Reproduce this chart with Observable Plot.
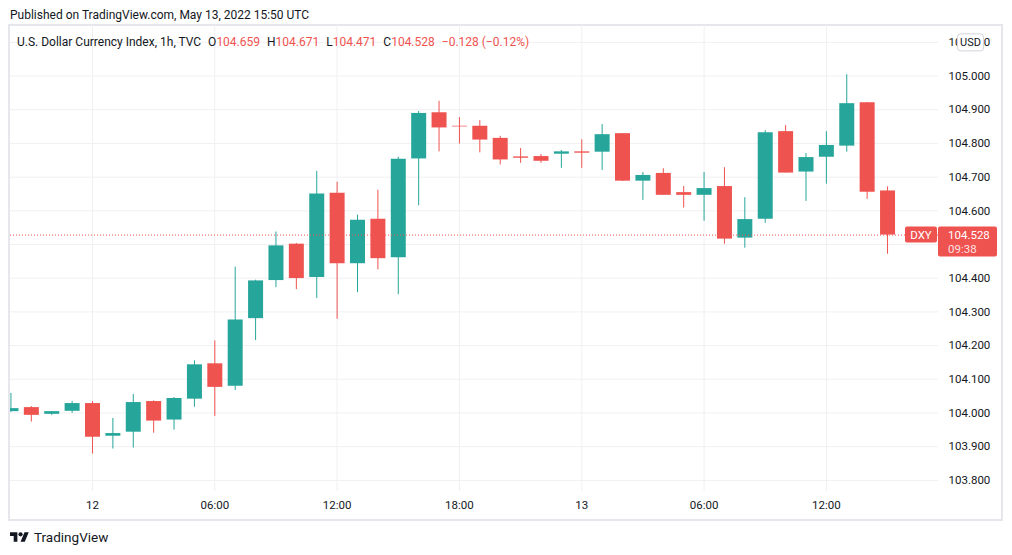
<!DOCTYPE html>
<html>
<head>
<meta charset="utf-8">
<script src="https://cdn.jsdelivr.net/npm/d3@7"></script>
<script src="https://cdn.jsdelivr.net/npm/@observablehq/plot@0.6"></script>
<style>
  html, body { margin: 0; padding: 0; background: #ffffff; }
  body { width: 1012px; height: 555px; position: relative; overflow: hidden; font-family: Roboto, "Noto Sans", sans-serif; color: #131722; }
  #published { position: absolute; left: 10px; top: 6px; font-size: 12px; line-height: 18px; white-space: nowrap; }
  #frame { position: absolute; left: 8px; top: 24px; width: 995px; height: 497px; box-sizing: border-box; border: 2px solid #e6e7ec; }
  #chart { position: absolute; left: 0; top: 24px; }
  #legend { position: absolute; left: 17px; top: 33px; font-size: 12px; line-height: 18px; white-space: nowrap; }
  #legend .v { color: #ef5350; }
  #legend .k { margin-left: 7px; }
  #logo { position: absolute; left: 10px; top: 529px; display: flex; align-items: center; font-size: 13.5px; }
  #logo svg { margin-right: 5px; }
</style>
</head>
<body>
<div id="published">Published on TradingView.com, May 13, 2022 15:50 UTC</div>
<div id="frame"></div>
<div id="chart"></div>
<div id="legend"></div>
<div id="logo"><svg width="19" height="15" viewBox="0 0 36 28"><path d="M14 22H7V11H0V4h14v18zM28 22h-8l7.5-18h8L28 22z" fill="#131722"/><circle cx="20" cy="8" r="4" fill="#131722"/></svg><span>TradingView</span></div>
<script>
// ---- data (hourly candles, UTC) ----
const firstHour = "2022-05-11T20:00:00Z";
const opens = [104.004,104.016,103.996,104.005,104.028,103.931,103.943,104.034,103.979,104.041,
               104.146,104.079,104.280,104.393,104.501,104.402,104.652,104.443,104.575,104.461,
               104.754,104.891,104.851,104.851,104.815,104.760,104.761,104.768,104.775,104.774,
               104.829,104.688,104.711,104.654,104.646,104.672,104.519,104.575,104.835,104.715,
               104.759,104.792,104.921,104.659];
const highs = [104.058,104.019,104.004,104.034,104.034,103.984,104.055,104.036,104.046,104.155,
               104.214,104.433,104.394,104.537,104.503,104.717,104.685,104.587,104.661,104.759,
               104.895,104.925,104.877,104.868,104.821,104.785,104.767,104.779,104.811,104.856,
               104.829,104.714,104.725,104.672,104.714,104.728,104.639,104.838,104.853,104.770,
               104.835,105.004,104.921,104.671];
const lows  = [104.002,103.973,103.993,103.999,103.878,103.893,103.896,103.940,103.949,104.017,
               103.990,104.067,104.215,104.372,104.366,104.340,104.278,104.357,104.425,104.351,
               104.615,104.775,104.798,104.772,104.736,104.741,104.741,104.726,104.726,104.720,
               104.687,104.631,104.646,104.608,104.569,104.501,104.489,104.563,104.712,104.628,
               104.679,104.774,104.634,104.471];
const closes= [104.013,103.993,104.004,104.028,103.928,103.939,104.031,103.976,104.043,104.143,
               104.076,104.276,104.392,104.496,104.399,104.650,104.443,104.572,104.458,104.753,
               104.889,104.846,104.849,104.810,104.751,104.756,104.747,104.775,104.771,104.826,
               104.688,104.705,104.646,104.646,104.666,104.516,104.574,104.832,104.712,104.758,
               104.794,104.918,104.655,104.528];

const xTickDates  = ["2022-05-12T00:00:00Z","2022-05-12T06:00:00Z","2022-05-12T12:00:00Z","2022-05-12T18:00:00Z",
                     "2022-05-13T00:00:00Z","2022-05-13T06:00:00Z","2022-05-13T12:00:00Z"];
const xTickLabels = ["12","06:00","12:00","18:00","13","06:00","12:00"];
const yGridTicks  = [103.8,103.9,104.0,104.1,104.2,104.3,104.4,104.5,104.6,104.7,104.8,104.9,105.0,105.1];
const yLabelTicks = [103.8,103.9,104.0,104.1,104.2,104.3,104.4,104.6,104.7,104.8,104.9,105.0,105.1];
const xDomain = ["2022-05-11T19:58:40Z","2022-05-13T17:30:00Z"];
const yDomain = [103.767, 105.150];

const symbol = "DXY";
const countdown = "09:38";
const currency = "USD";
const legendName = "U.S. Dollar Currency Index, 1h, TVC";
const change = "\u22120.128 (\u22120.12%)";

const UP = "#26a69a", DOWN = "#ef5350", GRID = "#f0f0f3";
const FONT = "Roboto, 'Noto Sans', sans-serif";

// ---- build table ----
const times = d3.utcHour.range(new Date(firstHour), d3.utcHour.offset(new Date(firstHour), opens.length));
const candles = opens.map((o, i) => ({t: times[i], open: o, high: highs[i], low: lows[i], close: closes[i]}));
const last = candles[candles.length - 1];
const tickDates = xTickDates.map(s => new Date(s));
const labelByTime = new Map(tickDates.map((d, i) => [+d, xTickLabels[i]]));
const color = d => d.close >= d.open ? UP : DOWN;
const fmt = d3.format(".3f");

const plot = Plot.plot({
  width: 1012,
  height: 498,
  marginLeft: 10,
  marginRight: 74,
  marginTop: 1,
  marginBottom: 31,
  style: {fontFamily: FONT, fontSize: "11.5px", color: "#131722", background: "transparent", overflow: "visible"},
  x: {type: "utc", domain: xDomain.map(s => new Date(s))},
  y: {domain: yDomain},
  marks: [
    Plot.gridY(yGridTicks, {stroke: GRID, strokeOpacity: 1}),
    Plot.gridX(tickDates, {stroke: GRID, strokeOpacity: 1}),
    Plot.ruleX(candles, {x: "t", y1: "low", y2: "high", stroke: color, strokeWidth: 1, clip: true}),
    Plot.ruleX(candles, {x: "t", y1: "open", y2: "close", stroke: color, strokeWidth: 15, clip: true}),
    Plot.ruleY([last.close], {stroke: DOWN, strokeWidth: 1, strokeDasharray: "1,2"}),
    Plot.axisY(yLabelTicks, {anchor: "right", tickSize: 0, tickPadding: 10, tickFormat: fmt, label: null}),
    Plot.axisX(tickDates, {anchor: "bottom", tickSize: 0, tickPadding: 9, tickFormat: d => labelByTime.get(+d), label: null})
  ]
});
document.getElementById("chart").appendChild(plot);

// ---- last price labels and currency badge, placed with the plot's scales ----
const svg = d3.select(plot);
const yy = plot.scale("y").apply(last.close);
const xr = plot.scale("x").range[1];
const g = svg.append("g").attr("font-family", FONT).attr("text-anchor", "start");
g.append("rect").attr("x", xr - 33).attr("y", yy - 8).attr("width", 32).attr("height", 16).attr("rx", 2).attr("fill", DOWN);
g.append("text").attr("x", xr - 17).attr("y", yy).attr("dy", "0.35em").attr("text-anchor", "middle")
  .attr("fill", "#ffffff").attr("font-size", "11.5px").text(symbol);
g.append("rect").attr("x", xr).attr("y", yy - 8).attr("width", 59).attr("height", 30).attr("rx", 2).attr("fill", DOWN);
g.append("text").attr("x", xr + 10).attr("y", yy).attr("dy", "0.35em").attr("text-anchor", "start")
  .attr("fill", "#ffffff").attr("font-size", "11.5px").text(fmt(last.close));
g.append("text").attr("x", xr + 10).attr("y", yy + 14).attr("dy", "0.35em").attr("text-anchor", "start")
  .attr("fill", "#ffffff").attr("fill-opacity", 0.85).attr("font-size", "11.5px").text(countdown);
const yTop = plot.scale("y").apply(yLabelTicks[yLabelTicks.length - 1]);
g.append("rect").attr("x", xr + 19.5).attr("y", yTop - 8).attr("width", 26).attr("height", 17).attr("rx", 3)
  .attr("fill", "#ffffff").attr("stroke", "#d1d4dc");
g.append("text").attr("x", xr + 32.5).attr("y", yTop + 0.5).attr("dy", "0.35em").attr("text-anchor", "middle")
  .attr("fill", "#131722").attr("font-size", "11px").text(currency);

// ---- legend ----
const lg = document.getElementById("legend");
lg.innerHTML = `<span>${legendName}</span>` +
  `<span class="k">O</span><span class="v">${fmt(last.open)}</span>` +
  `<span class="k">H</span><span class="v">${fmt(last.high)}</span>` +
  `<span class="k">L</span><span class="v">${fmt(last.low)}</span>` +
  `<span class="k">C</span><span class="v">${fmt(last.close)}</span>` +
  `<span class="k v">${change}</span>`;
</script>
</body>
</html>
